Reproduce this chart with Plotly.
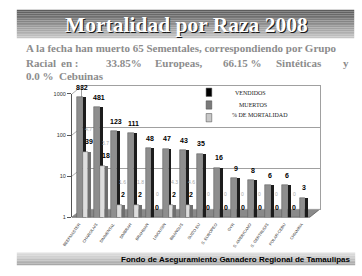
import numpy as np
import plotly.graph_objects as go

# ---------------- data ----------------
categorias = ["BEEFMASTER", "CHAROLAIS", "SIMMENTAL", "SIMBRAH", "BRAHMAN", "LIMOUSIN",
              "BRANGUS", "SUIZO EU", "S. EUROPEO", "GYR", "S. AMERICANO", "S. GERTRUDIS",
              "POLAR-CEBU", "CHIANINA"]
vendidos = [832, 481, 123, 111, 48, 47, 43, 35, 16, 9, 8, 6, 6, 3]
muertos = [39, 18, 2, 2, 0, 2, 2, 0, 0, 0, 0, 0, 0, 0]
pct_mortalidad = [4.7, 3.7, 1.6, 1.8, 0, 4.3, 4.6, 0, 0, 0, 0, 0, 0, 0]
y_ticks = [1, 10, 100, 1000]

W, H = 362, 276
def px(x):
    return x / W
def py(y):
    return 1 - y / H

idx = np.arange(len(categorias))

fig = go.Figure()

# back-wall dummy trace (subplot xy)
fig.add_trace(go.Scatter(x=[0], y=[1], mode="markers", marker=dict(opacity=0),
                         hoverinfo="skip", showlegend=False, xaxis="x", yaxis="y"))

# front bars (subplot x2y2)
common = dict(xaxis="x2", yaxis="y2", showlegend=False, hoverinfo="skip")
fig.add_trace(go.Bar(x=idx, y=vendidos, offset=-0.40, width=0.345,
                     marker=dict(color="#8e8e8e", line=dict(color="#555", width=0.5)), **common))
fig.add_trace(go.Bar(x=idx, y=vendidos, offset=-0.06, width=0.17,
                     marker=dict(color="#1c1c1c", line=dict(width=0)), **common))
fig.add_trace(go.Bar(x=idx, y=muertos, offset=-0.06, width=0.285,
                     marker=dict(color="#dedede", line=dict(color="#555", width=0.5)), **common))
fig.add_trace(go.Bar(x=idx, y=muertos, offset=0.225, width=0.17,
                     marker=dict(color="#6f6f6f", line=dict(width=0)), **common))

annotations = []
lab_font = dict(family="Liberation Sans", size=7, color="#000000")
# value labels
for i, v in enumerate(vendidos):
    annotations.append(dict(x=i - 0.13, y=np.log10(v), xref="x2", yref="y2", text=f"<b>{v}</b>",
                            showarrow=False, yshift=10, font=lab_font))
for i, m in enumerate(muertos):
    annotations.append(dict(x=i + 0.28, y=np.log10(max(m, 1)), xref="x2", yref="y2", text=f"<b>{m}</b>",
                            showarrow=False, yshift=10, font=lab_font))
for i, (m, p) in enumerate(zip(muertos, pct_mortalidad)):
    t = f"{p:g}" if p else "0"
    annotations.append(dict(x=i + 0.28, y=np.log10(max(m, 1)), xref="x2", yref="y2", text=t,
                            showarrow=False, yshift=23, font=dict(family="Liberation Sans", size=5, color="#a8a8a8")))

shapes = []
# title banner gradient
n = 16
top, bot = 7, 36
c0, c1 = np.array([0x5c, 0x5c, 0x5c]), np.array([0xc4, 0xc4, 0xc4])
for k in range(n):
    col = c0 + (c1 - c0) * k / (n - 1)
    y0 = top + (bot - top) * k / n
    y1 = top + (bot - top) * (k + 1) / n
    shapes.append(dict(type="rect", xref="paper", yref="paper", x0=px(7), x1=px(354), y0=py(y1), y1=py(y0),
                       fillcolor="rgb(%d,%d,%d)" % tuple(col.astype(int)), line=dict(width=0), layer="below"))
# footer bar
fn = 8
f0, f1 = np.array([0xe0, 0xe0, 0xe0]), np.array([0xa8, 0xa8, 0xa8])
for k in range(fn):
    col = f0 + (f1 - f0) * k / (fn - 1)
    y0 = 255 + 13 * k / fn
    y1 = 255 + 13 * (k + 1) / fn
    shapes.append(dict(type="rect", xref="paper", yref="paper", x0=px(7), x1=px(355), y0=py(y1), y1=py(y0),
                       fillcolor="rgb(%d,%d,%d)" % tuple(col.astype(int)), line=dict(width=0), layer="below"))
# floor
shapes.append(dict(type="path", xref="paper", yref="paper", layer="below",
                   path=f"M {px(63.7)},{py(219)} L {px(308.3)},{py(219)} L {px(318.3)},{py(211)} L {px(73.7)},{py(211)} Z",
                   fillcolor="#8a8a8a", line=dict(color="#555", width=0.7)))
# left wall depth lines
for yy in [219, 177, 135, 93]:
    shapes.append(dict(type="line", xref="paper", yref="paper", x0=px(63.7), y0=py(yy), x1=px(73.7), y1=py(yy - 8),
                       line=dict(color="#999", width=0.8), layer="below"))
# legend
leg = [("#000000", 87, "VENDIDOS", 229, 91.5), ("#7a7a7a", 100, "MUERTOS", 233, 104),
       ("#c8c8c8", 113, "% DE MORTALIDAD", 226, 114)]
for col, ytop, name, tx, ty in leg:
    shapes.append(dict(type="rect", xref="paper", yref="paper", x0=px(201.7), x1=px(207.5),
                       y0=py(ytop + 8.5), y1=py(ytop), fillcolor=col, line=dict(color="#444", width=0.5)))
    annotations.append(dict(x=px(tx), y=py(ty), xref="paper", yref="paper", text=name, showarrow=False,
                            xanchor="left", yanchor="middle",
                            font=dict(family="Liberation Serif", size=6, color="#222")))

# title
for dx, dy, col in [(1.6, -1.6, "#1a1a1a"), (0, 0, "#ffffff")]:
    annotations.append(dict(x=px(181), y=py(22), xref="paper", yref="paper", showarrow=False,
                            text="<b>Mortalidad por Raza 2008</b>", xshift=dx, yshift=dy,
                            xanchor="center", yanchor="middle",
                            font=dict(family="Liberation Serif", size=21.5, color=col)))
# paragraph
pf = dict(family="Liberation Serif", size=11, color="#8c8c8c")
annotations.append(dict(x=px(14), y=py(46), xref="paper", yref="paper", showarrow=False, xanchor="left",
                        yanchor="middle", text="<b>A la fecha han muerto 65 Sementales, correspondiendo por Grupo</b>", font=pf))
for word, xx in [("Racial", 14), ("en :", 50), ("33.85%", 97), ("Europeas,", 147), ("66.15 %", 217),
                 ("Sintéticas", 272), ("y", 340)]:
    annotations.append(dict(x=px(xx), y=py(61), xref="paper", yref="paper", showarrow=False, xanchor="left",
                            yanchor="middle", text=f"<b>{word}</b>", font=pf))
annotations.append(dict(x=px(14), y=py(75), xref="paper", yref="paper", showarrow=False, xanchor="left",
                        yanchor="middle", text="<b>0.0 %  Cebuinas</b>", font=pf))
# footer text
annotations.append(dict(x=px(352), y=py(262), xref="paper", yref="paper", showarrow=False, xanchor="right",
                        yanchor="middle", text="<b>Fondo de Aseguramiento Ganadero Regional de Tamaulipas</b>",
                        font=dict(family="Liberation Sans Narrow, Liberation Sans", size=8, color="#000")))

fig.update_layout(
    width=W, height=H, margin=dict(l=0, r=0, t=0, b=0),
    paper_bgcolor="white", plot_bgcolor="rgba(0,0,0,0)",
    barmode="overlay", bargap=0,
    xaxis=dict(domain=[px(73.7), px(318.3)], range=[0, 1], showgrid=False, zeroline=False,
               showticklabels=False, ticks="", showline=True, mirror=True, linecolor="#a0a0a0", linewidth=1),
    yaxis=dict(domain=[py(211), py(85)], type="log", range=[0, 3], tickvals=[10, 100], showgrid=True,
               gridcolor="#a0a0a0", gridwidth=1, showticklabels=False, ticks="", zeroline=False,
               showline=True, mirror=True, linecolor="#a0a0a0", linewidth=1),
    xaxis2=dict(domain=[px(63.7), px(308.3)], range=[-0.7, 13.2], anchor="y2", showgrid=False, zeroline=False,
                tickmode="array", tickvals=idx, ticktext=categorias, tickangle=-55, ticks="",
                tickfont=dict(family="Liberation Sans", size=4, color="#333"),
                ticklabelshift=-5, ticklabelstandoff=3, showline=False),
    yaxis2=dict(domain=[py(219), py(93)], anchor="x2", type="log", range=[0, 3], tickmode="array",
                tickvals=y_ticks, ticktext=[str(t) for t in y_ticks], ticks="outside", ticklen=4,
                tickcolor="#555", showline=True, linecolor="#555", linewidth=1, showgrid=False, zeroline=False,
                tickfont=dict(family="Liberation Sans", size=5.5, color="#333")),
    shapes=shapes, annotations=annotations,
)

fig.write_html("out.html")
